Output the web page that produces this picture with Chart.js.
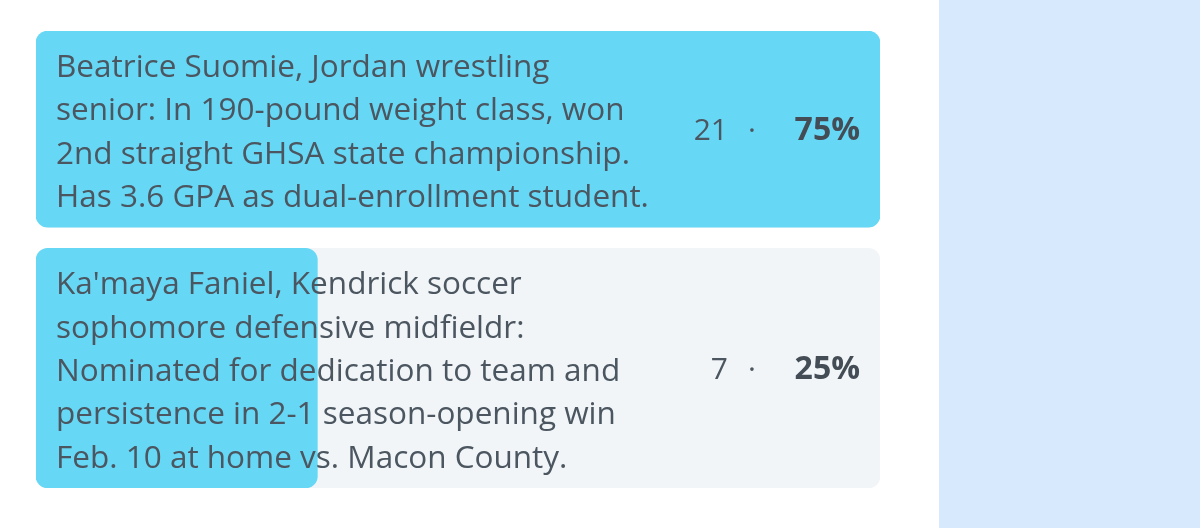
<!DOCTYPE html>
<html>
<head>
<meta charset="utf-8">
<script src="https://cdn.jsdelivr.net/npm/chart.js@4"></script>
<style>
  html, body { margin: 0; padding: 0; background: #ffffff; }
  #wrap { position: relative; width: 1200px; height: 528px; }
  #side { position: absolute; left: 939px; top: 0; width: 261px; height: 528px; background: #d6e9fd; }
  #box { position: absolute; left: 0; top: 0; width: 939px; height: 528px; }
</style>
</head>
<body>
<div id="wrap">
  <div id="box"><canvas id="poll"></canvas></div>
  <div id="side"></div>
</div>
<script>
// poll options, one line array per option
const options = [
  ['Beatrice Suomie, Jordan wrestling',
   'senior: In 190-pound weight class, won',
   '2nd straight GHSA state championship.',
   'Has 3.6 GPA as dual-enrollment student.'],
  ["Ka'maya Faniel, Kendrick soccer",
   'sophomore defensive midfieldr:',
   'Nominated for dedication to team and',
   'persistence in 2-1 season-opening win',
   'Feb. 10 at home vs. Macon County.']
];
const votes = [21, 7];
const percents = ['75%', '25%'];

const FONT = '"Open Sans", sans-serif';
const LINE_H = 43.3;
const ROW_PAD = 23;
const GAP = 21;

// row heights follow the number of text lines
const heights = options.map(l => l.length * LINE_H + ROW_PAD);
const centers = [];
let acc = 0;
heights.forEach((h, i) => {
  centers.push(acc + h / 2);
  acc += h + GAP;
});
const totalH = acc - GAP;
const maxVotes = Math.max(...votes);

const datasets = [];
options.forEach((lines, i) => {
  datasets.push({
    data: [{ x: votes[i], y: centers[i] }],
    backgroundColor: '#66d8f5',
    barThickness: heights[i],
    borderRadius: 12,
    borderSkipped: false,
    grouped: false,
    order: 0
  });
  datasets.push({
    data: [{ x: maxVotes, y: centers[i] }],
    backgroundColor: '#f1f5f7',
    barThickness: heights[i],
    borderRadius: 12,
    borderSkipped: false,
    grouped: false,
    order: 1
  });
});

const labelPlugin = {
  id: 'pollLabels',
  afterDatasetsDraw(chart) {
    const ctx = chart.ctx;
    const xs = chart.scales.x, ys = chart.scales.y;
    ctx.save();
    options.forEach((lines, i) => {
      const top = ys.getPixelForValue(centers[i] - heights[i] / 2);
      const mid = ys.getPixelForValue(centers[i]) + 2;
      const left = xs.getPixelForValue(0);
      const right = xs.getPixelForValue(maxVotes);
      ctx.fillStyle = '#4b5660';
      ctx.font = '31.5px ' + FONT;
      ctx.textBaseline = 'middle';
      ctx.textAlign = 'left';
      lines.forEach((t, j) => {
        ctx.fillText(t, left + 20, top + 37 + j * LINE_H);
      });
      ctx.textAlign = 'right';
      ctx.font = '30px ' + FONT;
      ctx.fillText(String(votes[i]), right - 152, mid);
      ctx.textAlign = 'center';
      ctx.fillText('·', right - 128, mid);
      ctx.textAlign = 'right';
      ctx.font = 'bold 32px ' + FONT;
      ctx.fillStyle = '#444d56';
      ctx.fillText(percents[i], right - 20, mid);
    });
    ctx.restore();
  }
};

new Chart(document.getElementById('poll'), {
  type: 'bar',
  data: { datasets },
  options: {
    indexAxis: 'y',
    responsive: true,
    maintainAspectRatio: false,
    animation: false,
    layout: { padding: { left: 36, right: 59, top: 31, bottom: 40 } },
    plugins: { legend: { display: false }, tooltip: { enabled: false } },
    scales: {
      x: { type: 'linear', display: false, min: 0, max: maxVotes },
      y: { type: 'linear', display: false, offset: false, min: 0, max: totalH, reverse: true }
    }
  },
  plugins: [labelPlugin]
});
</script>
</body>
</html>
